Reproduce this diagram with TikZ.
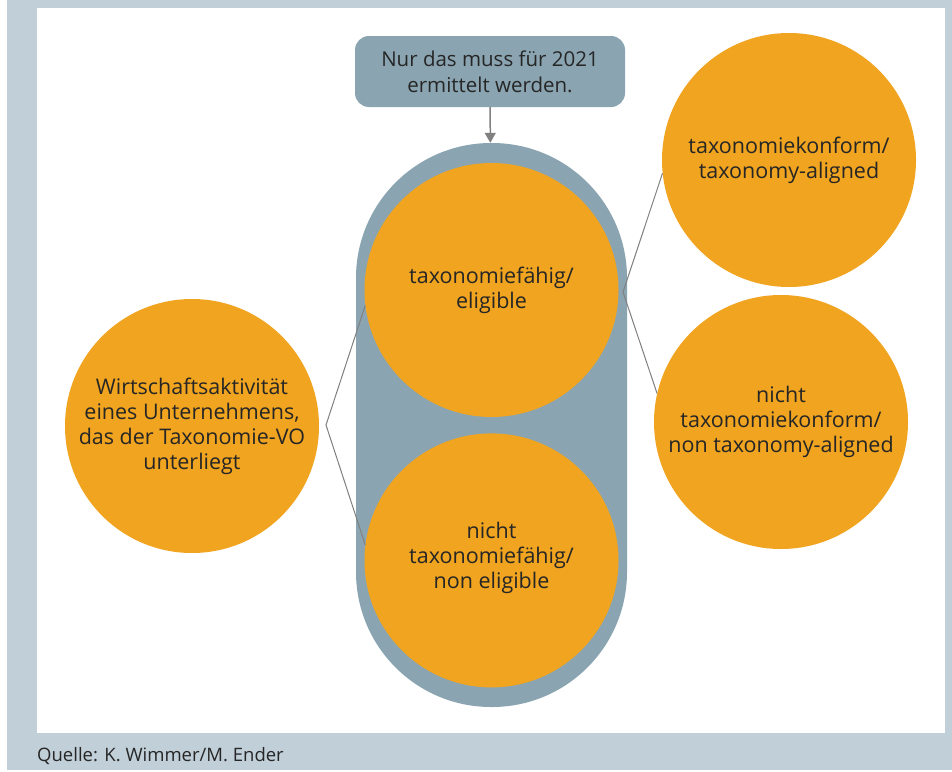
\documentclass[tikz,border=0pt]{standalone}
\usepackage{fontspec}
\setmainfont{Open Sans}
\usetikzlibrary{positioning,arrows.meta}

\definecolor{orng}{HTML}{F0A41F}
\definecolor{slate}{HTML}{8AA5B1}
\definecolor{pale}{HTML}{C1CFD8}
\definecolor{ink}{HTML}{262626}
\definecolor{wire}{HTML}{808080}

\begin{document}
\begin{tikzpicture}[x=1pt,y=-1pt,node distance=16pt,
    circ node/.style={circle,fill=orng,minimum size=254pt,inner sep=0pt,
                      align=center,text=ink,font=\fontsize{21.5}{25}\selectfont},
    box node/.style={rectangle,rounded corners=14pt,fill=slate,minimum width=270pt,
                     minimum height=71pt,align=center,text=ink,font=\fontsize{20.5}{26}\selectfont},
    pill node/.style={rectangle,rounded corners=135pt,fill=slate,minimum width=271pt,
                      minimum height=564pt,inner sep=0pt}]

  \useasboundingbox (0,0) rectangle (952,771);
  \fill[pale] (7,0) rectangle (952,770);
  \fill[white] (37,8) rectangle (945,733);

  \node[pill node] (pill) at (491.5,425) {};
  \node[circ node] (elig) at (491.5,290) {taxonomiefähig/\\eligible};
  \node[circ node] (nonel) [below=16pt of elig] {nicht\\taxonomiefähig/\\non eligible\\[-14pt]\mbox{}};
  \node[circ node] (wirt) at (192,426)
    {Wirtschaftsaktivität\\eines Unternehmens,\\das der Taxonomie-VO\\unterliegt};
  \node[circ node] (konf) at (789,160) {taxonomiekonform/\\taxonomy-aligned};
  \node[circ node] (nkonf) at (781,422) {nicht\\taxonomiekonform/\\non taxonomy-aligned};
  \node[box node] (box) at (490,71.5) {Nur das muss für 2021\\ermittelt werden.};
  \node[anchor=base west,inner sep=0pt,text=ink,font=\fontsize{18.5}{22}\selectfont] (src)
    at (37,761) {Quelle: K. Wimmer/M. Ender};

  \coordinate (lfork) at (326,425);
  \coordinate (rfork) at (623,292);

  \path[draw=wire,line width=1pt]
    (elig.187) -- (lfork) -- (nonel.173)
    (konf.186) -- (rfork) -- (nkonf.167);
  \draw[wire,line width=1.5pt,-{Triangle[width=11pt,length=10pt]}] (box) -- (pill);
\end{tikzpicture}
\end{document}
